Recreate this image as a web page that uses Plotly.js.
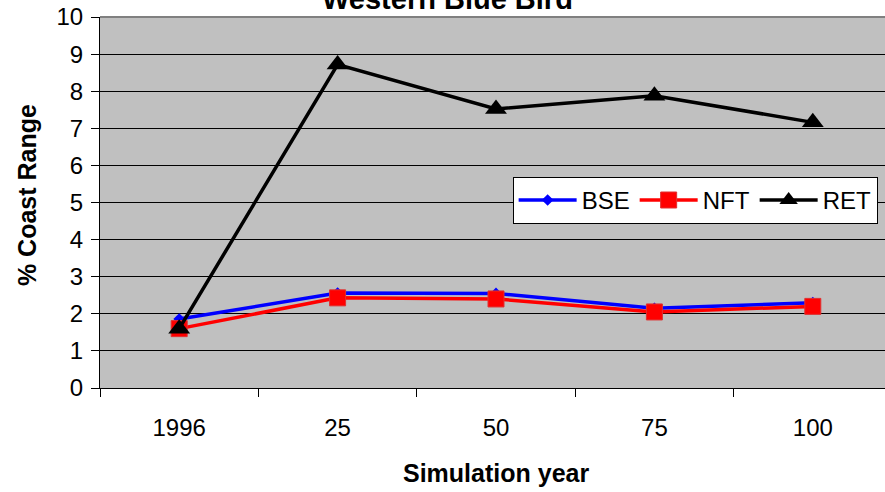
<!DOCTYPE html>
<html>
<head>
<meta charset="utf-8">
<script src="https://cdn.plot.ly/plotly-3.0.1.min.js"></script>
<style>
html,body{margin:0;padding:0;overflow:hidden;background:#fff;}
#chart{width:900px;height:492px;}
</style>
</head>
<body>
<div id="chart"></div>
<script>
const years = ["1996", "25", "50", "75", "100"];
const bse = [1.86, 2.56, 2.55, 2.15, 2.30];
const nft = [1.60, 2.43, 2.40, 2.05, 2.20];
const ret = [1.60, 8.72, 7.52, 7.88, 7.16];
const yTicks = [0,1,2,3,4,5,6,7,8,9,10];

const FONT = "Liberation Sans, Arial, sans-serif";

const traces = [
  {x: years, y: bse, name: "BSE", type: "scatter", mode: "lines+markers",
   line: {color: "#0000ff", width: 3.5},
   marker: {symbol: "diamond", size: 9, color: "#0000ff"}},
  {x: years, y: nft, name: "NFT", type: "scatter", mode: "lines+markers",
   line: {color: "#ff0000", width: 3.5},
   marker: {symbol: "square", size: 16, color: "#ff0000", line: {color: "#e03030", width: 1}}},
  {x: years, y: ret, name: "RET", type: "scatter", mode: "lines+markers",
   line: {color: "#000000", width: 3.5},
   marker: {symbol: "triangle-up", size: 19, color: "#000000"}}
];

const layout = {
  width: 900, height: 492,
  margin: {l: 100, r: 8, t: 17, b: 104},
  paper_bgcolor: "#ffffff",
  plot_bgcolor: "#c0c0c0",
  font: {family: FONT, color: "#000000", size: 24},
  showlegend: true,
  legend: {
    orientation: "h", x: 0.521, xanchor: "left", y: 0.569, yanchor: "top",
    bgcolor: "#ffffff", bordercolor: "#000000", borderwidth: 1,
    font: {family: FONT, size: 24, color: "#000000"},
    itemwidth: 58, traceorder: "normal"
  },
  xaxis: {
    type: "category",
    categoryorder: "array", categoryarray: years,
    range: [-0.5, 4.5],
    showline: true, linecolor: "#000000", linewidth: 1,
    showgrid: false, zeroline: false,
    ticks: "outside", tickson: "boundaries", ticklen: 8, tickcolor: "#000000", tickwidth: 1,
    ticklabelstandoff: 18,
    tickfont: {family: FONT, size: 24, color: "#000000"}
  },
  yaxis: {
    range: [0, 10],
    tickvals: yTicks, ticktext: yTicks.map(String),
    showline: true, linecolor: "#000000", linewidth: 1,
    showgrid: true, gridcolor: "#000000", gridwidth: 1,
    zeroline: false,
    ticks: "outside", ticklen: 8, tickcolor: "#000000", tickwidth: 1,
    ticklabelstandoff: 3,
    tickfont: {family: FONT, size: 24, color: "#000000"}
  },
  shapes: [
    {type: "line", xref: "paper", yref: "paper", x0: 0, x1: 1, y0: 1, y1: 1,
     line: {color: "#808080", width: 2}}
  ],
  annotations: [
    {text: "<b>Western Blue Bird</b>", xref: "paper", yref: "paper",
     x: 0.4388, xanchor: "center", y: 1.0, yanchor: "bottom", yshift: 0, showarrow: false,
     font: {family: FONT, size: 29, color: "#000000"}},
    {text: "<b>Simulation year</b>", xref: "paper", yref: "paper",
     x: 0.5, xanchor: "center", y: -0.2264, yanchor: "middle", yshift: -1, showarrow: false,
     font: {family: FONT, size: 25, color: "#000000"}},
    {text: "<b>% Coast Range</b>", xref: "paper", yref: "paper", textangle: -90,
     x: -0.0922, xanchor: "center", y: 0.520, yanchor: "middle", showarrow: false,
     font: {family: FONT, size: 25, color: "#000000"}}
  ]
};

Plotly.newPlot("chart", traces, layout, {displayModeBar: false, staticPlot: true});
</script>
</body>
</html>
